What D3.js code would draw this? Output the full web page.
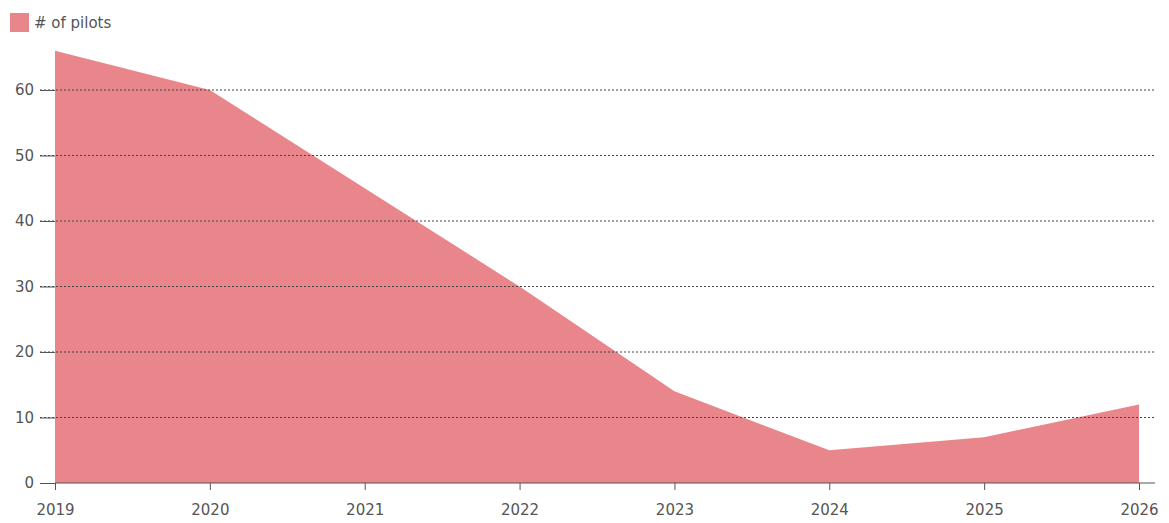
<!DOCTYPE html>
<html>
<head>
<meta charset="utf-8">
<script src="https://cdn.jsdelivr.net/npm/d3@7"></script>
<style>
  body { margin: 0; background: #fff; }
  text { font-family: "DejaVu Sans", sans-serif; }
</style>
</head>
<body>
<svg id="chart" width="1169" height="523"></svg>
<script>
// Pilot count per year
var years = [2019, 2020, 2021, 2022, 2023, 2024, 2025, 2026]
var pilots = [66, 60, 45, 30, 14, 5, 7, 12]
var yTicks = [0, 10, 20, 30, 40, 50, 60]
var seriesName = '# of pilots'

var width = 1169
var height = 523
var margin = { top: 40, right: 30, bottom: 40, left: 55 }

var svg = d3.select('#chart')

var x = d3.scaleLinear()
  .domain([2019, 2026])
  .range([margin.left, 1139])

var y = d3.scaleLinear()
  .domain([0, 60])
  .range([height - margin.bottom, 90])

var fill = '#e9868c'

// Area
var area = d3.area()
  .x(function(d, i) { return x(years[i]) })
  .y0(y(0))
  .y1(function(d) { return y(d) })
  .curve(d3.curveLinear)

svg.append('path')
  .datum(pilots)
  .attr('d', area)
  .attr('fill', fill)

// Dashed gridlines (drawn over the area)
svg.append('g')
  .selectAll('line')
  .data(yTicks.filter(function(t) { return t > 0 }))
  .join('line')
  .attr('x1', 40)
  .attr('x2', 1155)
  .attr('y1', function(d) { return y(d) })
  .attr('y2', function(d) { return y(d) })
  .attr('stroke', '#444')
  .attr('stroke-width', 1)
  .attr('stroke-dasharray', '2,2')

// Y axis
var yAxis = svg.append('g')
  .attr('transform', 'translate(' + margin.left + ',0)')
  .call(d3.axisLeft(y).tickValues(yTicks).tickSize(15).tickPadding(6))
yAxis.select('.domain').remove()
yAxis.selectAll('.tick line').attr('stroke', '#555')
yAxis.selectAll('text').attr('fill', '#555').style('font-size', '15px')

// X axis
var xAxis = svg.append('g')
  .attr('transform', 'translate(0,' + y(0) + ')')
  .call(d3.axisBottom(x).tickValues(years).tickFormat(d3.format('d')).tickSize(7).tickPadding(14).tickSizeOuter(0))
xAxis.select('.domain').attr('stroke', '#555').attr('d', 'M' + margin.left + ',0H1155')
xAxis.selectAll('.tick line').attr('stroke', '#555')
xAxis.selectAll('text').attr('fill', '#555').style('font-size', '15px')

// Legend
var legend = svg.append('g').attr('transform', 'translate(10,13)')
legend.append('rect')
  .attr('width', 19)
  .attr('height', 19)
  .attr('fill', fill)
legend.append('text')
  .attr('x', 24)
  .attr('y', 10)
  .attr('dy', '0.35em')
  .attr('fill', '#555')
  .style('font-size', '15px')
  .text(seriesName)
</script>
</body>
</html>
